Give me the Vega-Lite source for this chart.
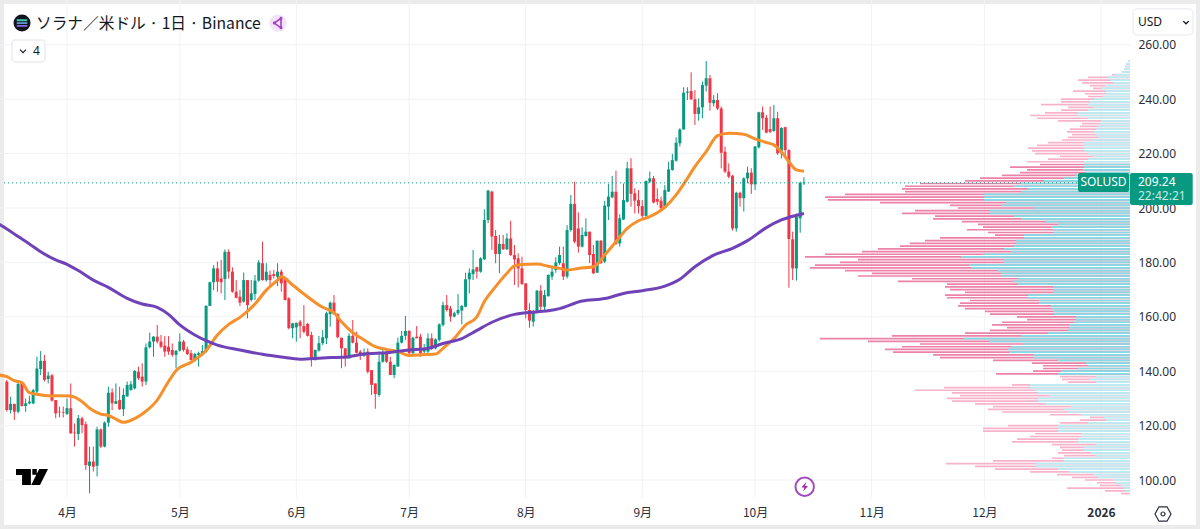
{
  "$schema": "https://vega.github.io/schema/vega-lite/v6.json",
  "width": 1200,
  "height": 529,
  "padding": 0,
  "autosize": {"type": "none"},
  "background": "#ffffff",
  "config": {
    "view": {"stroke": "#ebebeb", "strokeWidth": 8},
    "font": "Noto Sans"
  },
  "datasets": {
    "candles": [
      {"d":"2025-03-16","o":136.2,"h":136.8,"l":125.1,"c":125.7},
      {"d":"2025-03-17","o":125.7,"h":130.6,"l":124.5,"c":128},
      {"d":"2025-03-18","o":128,"h":128,"l":122.1,"c":125.1},
      {"d":"2025-03-19","o":125.1,"h":136.2,"l":124.5,"c":135.3},
      {"d":"2025-03-20","o":135.8,"h":136.2,"l":127,"c":127.2},
      {"d":"2025-03-21","o":127.2,"h":130,"l":125.1,"c":128.2},
      {"d":"2025-03-22","o":128.2,"h":131,"l":127.8,"c":128.8},
      {"d":"2025-03-23","o":128.1,"h":133.5,"l":127.9,"c":133},
      {"d":"2025-03-24","o":132.5,"h":145.4,"l":131.9,"c":141},
      {"d":"2025-03-25","o":140.8,"h":147.4,"l":138.6,"c":143.8},
      {"d":"2025-03-26","o":143.8,"h":146,"l":136.2,"c":136.8},
      {"d":"2025-03-27","o":137.1,"h":139.8,"l":135.5,"c":138.4},
      {"d":"2025-03-28","o":138.5,"h":139,"l":128.8,"c":129.2},
      {"d":"2025-03-29","o":129.4,"h":129.4,"l":122.7,"c":124.5},
      {"d":"2025-03-30","o":125.1,"h":127,"l":123,"c":124.9},
      {"d":"2025-03-31","o":124.9,"h":127,"l":123,"c":124.7},
      {"d":"2025-04-01","o":124.3,"h":130,"l":123.9,"c":126.4},
      {"d":"2025-04-02","o":126.4,"h":135.5,"l":116.9,"c":117.2},
      {"d":"2025-04-03","o":117.4,"h":120.8,"l":112.3,"c":117.2},
      {"d":"2025-04-04","o":116.9,"h":123.9,"l":114.7,"c":122.7},
      {"d":"2025-04-05","o":122.7,"h":123.3,"l":117.2,"c":120.2},
      {"d":"2025-04-06","o":120.5,"h":121.5,"l":103.7,"c":105.5},
      {"d":"2025-04-07","o":105.2,"h":112.3,"l":95.1,"c":106.8},
      {"d":"2025-04-08","o":106.8,"h":112.3,"l":103.1,"c":104.9},
      {"d":"2025-04-09","o":105.2,"h":119.6,"l":101.3,"c":118.6},
      {"d":"2025-04-10","o":118.6,"h":119,"l":111.7,"c":112.3},
      {"d":"2025-04-11","o":112.3,"h":121.5,"l":112,"c":121.1},
      {"d":"2025-04-12","o":121.1,"h":134.3,"l":119.6,"c":132.1},
      {"d":"2025-04-13","o":132.2,"h":133.7,"l":125.7,"c":128.2},
      {"d":"2025-04-14","o":128,"h":135.5,"l":128,"c":129},
      {"d":"2025-04-15","o":129.4,"h":134.3,"l":125.7,"c":126},
      {"d":"2025-04-16","o":126,"h":133.7,"l":123.5,"c":131.3},
      {"d":"2025-04-17","o":130.7,"h":136.2,"l":130.7,"c":134.9},
      {"d":"2025-04-18","o":133.1,"h":136.4,"l":132.8,"c":135.2},
      {"d":"2025-04-19","o":133.7,"h":140.4,"l":133.3,"c":140.1},
      {"d":"2025-04-20","o":139.8,"h":141.7,"l":136.8,"c":137.4},
      {"d":"2025-04-21","o":138,"h":142.9,"l":134.3,"c":136.2},
      {"d":"2025-04-22","o":136.2,"h":150.2,"l":134.9,"c":148.8},
      {"d":"2025-04-23","o":148.8,"h":154.2,"l":148.4,"c":150.9},
      {"d":"2025-04-24","o":150.9,"h":152.9,"l":145.3,"c":152.7},
      {"d":"2025-04-25","o":152.7,"h":157,"l":150.2,"c":150.9},
      {"d":"2025-04-26","o":150.9,"h":153.3,"l":148.4,"c":149},
      {"d":"2025-04-27","o":149.4,"h":152.9,"l":145.3,"c":147.2},
      {"d":"2025-04-28","o":149,"h":152.9,"l":146,"c":147.2},
      {"d":"2025-04-29","o":147.8,"h":150.2,"l":145.3,"c":146},
      {"d":"2025-04-30","o":146,"h":147.6,"l":141.1,"c":147.6},
      {"d":"2025-05-01","o":147.6,"h":153.9,"l":147.2,"c":150.9},
      {"d":"2025-05-02","o":150.9,"h":151.5,"l":147.2,"c":147.8},
      {"d":"2025-05-03","o":148,"h":149,"l":146,"c":146.3},
      {"d":"2025-05-04","o":146.6,"h":147.8,"l":143.9,"c":144.1},
      {"d":"2025-05-05","o":144.1,"h":146.8,"l":143.5,"c":146.3},
      {"d":"2025-05-06","o":146,"h":147.2,"l":141.7,"c":146.6},
      {"d":"2025-05-07","o":146.3,"h":149.6,"l":146,"c":147.4},
      {"d":"2025-05-08","o":147.2,"h":164.3,"l":146.8,"c":164},
      {"d":"2025-05-09","o":164,"h":172.9,"l":164,"c":172.7},
      {"d":"2025-05-10","o":172.7,"h":179,"l":169.8,"c":177.8},
      {"d":"2025-05-11","o":177.8,"h":180.3,"l":169.2,"c":172.9},
      {"d":"2025-05-12","o":174.1,"h":180.9,"l":168.6,"c":172.7},
      {"d":"2025-05-13","o":173.9,"h":184.8,"l":166.2,"c":183.9},
      {"d":"2025-05-14","o":183.9,"h":184.8,"l":174.1,"c":176.6},
      {"d":"2025-05-15","o":176.6,"h":178.2,"l":168.9,"c":169.2},
      {"d":"2025-05-16","o":169.2,"h":173.5,"l":166.8,"c":167},
      {"d":"2025-05-17","o":167.4,"h":169.9,"l":164,"c":165.2},
      {"d":"2025-05-18","o":165.6,"h":176.3,"l":165.2,"c":173.5},
      {"d":"2025-05-19","o":173.5,"h":173.5,"l":159.4,"c":164.3},
      {"d":"2025-05-20","o":166.2,"h":173.5,"l":165.6,"c":168.6},
      {"d":"2025-05-21","o":168.4,"h":175.4,"l":166.2,"c":173.3},
      {"d":"2025-05-22","o":173.3,"h":180.9,"l":172.9,"c":180},
      {"d":"2025-05-23","o":179.7,"h":187.6,"l":173.3,"c":173.5},
      {"d":"2025-05-24","o":173.5,"h":179.7,"l":172.9,"c":176.6},
      {"d":"2025-05-25","o":175.4,"h":177,"l":171.3,"c":173.5},
      {"d":"2025-05-26","o":175.7,"h":177.2,"l":174.1,"c":175},
      {"d":"2025-05-27","o":174.7,"h":179.7,"l":171.3,"c":176.6},
      {"d":"2025-05-28","o":176.6,"h":177.4,"l":169.2,"c":172.3},
      {"d":"2025-05-29","o":174.1,"h":174.7,"l":166,"c":166.2},
      {"d":"2025-05-30","o":166.8,"h":167.2,"l":155.4,"c":155.8},
      {"d":"2025-05-31","o":155.8,"h":157.8,"l":152.1,"c":157.6},
      {"d":"2025-06-01","o":156.1,"h":157.8,"l":150.9,"c":157.8},
      {"d":"2025-06-02","o":158.2,"h":158.8,"l":152.1,"c":156.6},
      {"d":"2025-06-03","o":156.6,"h":164.3,"l":153.9,"c":154.5},
      {"d":"2025-06-04","o":157.4,"h":157.8,"l":152.7,"c":153},
      {"d":"2025-06-05","o":153.3,"h":154.5,"l":141.7,"c":144.1},
      {"d":"2025-06-06","o":144.1,"h":148,"l":143.9,"c":147.8},
      {"d":"2025-06-07","o":147.6,"h":153,"l":147.2,"c":150.3},
      {"d":"2025-06-08","o":150.3,"h":155.1,"l":149.6,"c":152.5},
      {"d":"2025-06-09","o":152.1,"h":161.9,"l":150,"c":161.3},
      {"d":"2025-06-10","o":161,"h":165.6,"l":156.4,"c":165.2},
      {"d":"2025-06-11","o":165.2,"h":168,"l":160.7,"c":161},
      {"d":"2025-06-12","o":161,"h":161.3,"l":152.1,"c":152.5},
      {"d":"2025-06-13","o":152.3,"h":152.3,"l":141.1,"c":148.4},
      {"d":"2025-06-14","o":148.4,"h":148.4,"l":141.7,"c":144.7},
      {"d":"2025-06-15","o":144.7,"h":153.9,"l":144.7,"c":153},
      {"d":"2025-06-16","o":153,"h":158.8,"l":150.2,"c":150.5},
      {"d":"2025-06-17","o":150.5,"h":154.5,"l":146.6,"c":146.8},
      {"d":"2025-06-18","o":147.2,"h":147.8,"l":144.1,"c":145.6},
      {"d":"2025-06-19","o":145.6,"h":148.4,"l":145.3,"c":146.8},
      {"d":"2025-06-20","o":147.2,"h":148.4,"l":139.2,"c":139.8},
      {"d":"2025-06-21","o":140.4,"h":140.4,"l":131.3,"c":135},
      {"d":"2025-06-22","o":135.5,"h":135.5,"l":126.2,"c":131.6},
      {"d":"2025-06-23","o":131.3,"h":147.2,"l":130.6,"c":143.5},
      {"d":"2025-06-24","o":143.5,"h":147.8,"l":143.1,"c":146.8},
      {"d":"2025-06-25","o":146.8,"h":147.8,"l":143.1,"c":143.5},
      {"d":"2025-06-26","o":143.5,"h":145.3,"l":138.6,"c":138.6},
      {"d":"2025-06-27","o":138.6,"h":142.5,"l":137.4,"c":142.3},
      {"d":"2025-06-28","o":141.7,"h":152.3,"l":141.7,"c":150.5},
      {"d":"2025-06-29","o":150.5,"h":154.8,"l":150.2,"c":153},
      {"d":"2025-06-30","o":153,"h":160.3,"l":151.5,"c":154.8},
      {"d":"2025-07-01","o":154.8,"h":155.1,"l":145.3,"c":146.6},
      {"d":"2025-07-02","o":146.6,"h":152.7,"l":146.3,"c":152.3},
      {"d":"2025-07-03","o":152.7,"h":156.6,"l":152.1,"c":152.1},
      {"d":"2025-07-04","o":152.7,"h":153.7,"l":145.3,"c":146.6},
      {"d":"2025-07-05","o":147.2,"h":150,"l":146.3,"c":148.4},
      {"d":"2025-07-06","o":147.2,"h":153.9,"l":146.6,"c":152.1},
      {"d":"2025-07-07","o":152.1,"h":153.9,"l":147.8,"c":148.4},
      {"d":"2025-07-08","o":148.4,"h":152.1,"l":148,"c":151.7},
      {"d":"2025-07-09","o":151.5,"h":157.6,"l":150.9,"c":157.2},
      {"d":"2025-07-10","o":157,"h":165.6,"l":156.4,"c":164.3},
      {"d":"2025-07-11","o":164.3,"h":168,"l":161.9,"c":162.5},
      {"d":"2025-07-12","o":163.1,"h":164,"l":158.2,"c":160.1},
      {"d":"2025-07-13","o":160.1,"h":161.9,"l":159.8,"c":161.3},
      {"d":"2025-07-14","o":161.3,"h":168.4,"l":160.7,"c":162.5},
      {"d":"2025-07-15","o":162.3,"h":164.3,"l":157.2,"c":164},
      {"d":"2025-07-16","o":163.7,"h":176.2,"l":163.5,"c":173.8},
      {"d":"2025-07-17","o":173.8,"h":177.8,"l":168.6,"c":176.2},
      {"d":"2025-07-18","o":175.7,"h":184.6,"l":173.5,"c":177.4},
      {"d":"2025-07-19","o":178.2,"h":178.4,"l":174.1,"c":176.6},
      {"d":"2025-07-20","o":176.6,"h":181.9,"l":176.2,"c":181.5},
      {"d":"2025-07-21","o":181.1,"h":199.5,"l":180.9,"c":195.6},
      {"d":"2025-07-22","o":195.6,"h":206.6,"l":194.4,"c":206.4},
      {"d":"2025-07-23","o":206,"h":206.4,"l":184.6,"c":189.5},
      {"d":"2025-07-24","o":189.7,"h":191.9,"l":179.7,"c":183.1},
      {"d":"2025-07-25","o":183.1,"h":190.1,"l":176,"c":186.8},
      {"d":"2025-07-26","o":186.8,"h":190.1,"l":184.6,"c":184.8},
      {"d":"2025-07-27","o":184.8,"h":190.7,"l":184.6,"c":188.8},
      {"d":"2025-07-28","o":188.8,"h":195.3,"l":182.3,"c":182.7},
      {"d":"2025-07-29","o":182.7,"h":186.4,"l":171.7,"c":181.1},
      {"d":"2025-07-30","o":181.5,"h":183.3,"l":170.8,"c":177.8},
      {"d":"2025-07-31","o":177.8,"h":182.1,"l":171.7,"c":172.1},
      {"d":"2025-08-01","o":172.3,"h":172.3,"l":159.4,"c":162.5},
      {"d":"2025-08-02","o":162.5,"h":165,"l":156,"c":158.6},
      {"d":"2025-08-03","o":158.2,"h":162.5,"l":156.4,"c":161.9},
      {"d":"2025-08-04","o":161.9,"h":169.9,"l":161.3,"c":169.6},
      {"d":"2025-08-05","o":169.6,"h":171.7,"l":161.9,"c":163.7},
      {"d":"2025-08-06","o":163.7,"h":169.9,"l":161.9,"c":168},
      {"d":"2025-08-07","o":167.6,"h":175.6,"l":167.4,"c":175.4},
      {"d":"2025-08-08","o":174.8,"h":178,"l":173.6,"c":176.6},
      {"d":"2025-08-09","o":177.2,"h":181.9,"l":176.2,"c":180},
      {"d":"2025-08-10","o":179.7,"h":185.8,"l":179.1,"c":182.7},
      {"d":"2025-08-11","o":179.7,"h":185.8,"l":173.5,"c":174.8},
      {"d":"2025-08-12","o":174.8,"h":193.7,"l":174.1,"c":191.9},
      {"d":"2025-08-13","o":191.9,"h":204.8,"l":191.3,"c":201.5},
      {"d":"2025-08-14","o":201.5,"h":209.7,"l":187,"c":187.6},
      {"d":"2025-08-15","o":192.5,"h":198.4,"l":183.6,"c":185.8},
      {"d":"2025-08-16","o":185.8,"h":192.9,"l":185.5,"c":190.1},
      {"d":"2025-08-17","o":189.7,"h":196.2,"l":189.5,"c":191.3},
      {"d":"2025-08-18","o":191.3,"h":191.3,"l":179.7,"c":182.7},
      {"d":"2025-08-19","o":183.1,"h":186.4,"l":175.7,"c":176},
      {"d":"2025-08-20","o":176.2,"h":188,"l":176.2,"c":188},
      {"d":"2025-08-21","o":188,"h":188.2,"l":179.5,"c":179.7},
      {"d":"2025-08-22","o":180.3,"h":202.6,"l":179.7,"c":200.9},
      {"d":"2025-08-23","o":200.5,"h":208.8,"l":195.6,"c":204.2},
      {"d":"2025-08-24","o":203.9,"h":211.8,"l":203.6,"c":206},
      {"d":"2025-08-25","o":206,"h":213.7,"l":186.4,"c":186.8},
      {"d":"2025-08-26","o":187,"h":197.7,"l":185.8,"c":196.2},
      {"d":"2025-08-27","o":195.8,"h":209,"l":195.6,"c":202.9},
      {"d":"2025-08-28","o":202.3,"h":217,"l":202,"c":214.6},
      {"d":"2025-08-29","o":214.6,"h":218.3,"l":200.5,"c":205.2},
      {"d":"2025-08-30","o":205.4,"h":207.2,"l":198,"c":202.7},
      {"d":"2025-08-31","o":202.9,"h":206.6,"l":198,"c":200.7},
      {"d":"2025-09-01","o":200.7,"h":202.9,"l":195.6,"c":197.1},
      {"d":"2025-09-02","o":197.1,"h":210.1,"l":196.8,"c":209.9},
      {"d":"2025-09-03","o":209.7,"h":213.4,"l":209.1,"c":210.9},
      {"d":"2025-09-04","o":210.9,"h":211.8,"l":201.7,"c":202},
      {"d":"2025-09-05","o":203.3,"h":207.2,"l":201.1,"c":202.3},
      {"d":"2025-09-06","o":202.7,"h":204.2,"l":199.5,"c":199.9},
      {"d":"2025-09-07","o":200.1,"h":208.5,"l":199.9,"c":206.6},
      {"d":"2025-09-08","o":206,"h":217,"l":206,"c":214.2},
      {"d":"2025-09-09","o":214,"h":219.9,"l":213.7,"c":217.6},
      {"d":"2025-09-10","o":217.4,"h":226,"l":217,"c":224},
      {"d":"2025-09-11","o":223.8,"h":229.3,"l":222.6,"c":228.9},
      {"d":"2025-09-12","o":228.9,"h":244.4,"l":228.7,"c":242.4},
      {"d":"2025-09-13","o":242.4,"h":244.4,"l":239.7,"c":242.8},
      {"d":"2025-09-14","o":243,"h":249.9,"l":239.7,"c":240},
      {"d":"2025-09-15","o":240,"h":243.4,"l":230.5,"c":234.6},
      {"d":"2025-09-16","o":234.6,"h":240.3,"l":232.1,"c":237},
      {"d":"2025-09-17","o":237,"h":246.5,"l":233,"c":245.2},
      {"d":"2025-09-18","o":245,"h":254,"l":242.8,"c":247.7},
      {"d":"2025-09-19","o":247.7,"h":248.9,"l":235.8,"c":238.7},
      {"d":"2025-09-20","o":238.5,"h":241.5,"l":237.3,"c":239.7},
      {"d":"2025-09-21","o":239.7,"h":242.2,"l":236,"c":236.6},
      {"d":"2025-09-22","o":236.6,"h":237.3,"l":214.6,"c":220.3},
      {"d":"2025-09-23","o":220.7,"h":222.6,"l":212.8,"c":213.4},
      {"d":"2025-09-24","o":213.4,"h":216.4,"l":210.9,"c":211.5},
      {"d":"2025-09-25","o":211.9,"h":212.1,"l":191.7,"c":192.5},
      {"d":"2025-09-26","o":192.5,"h":206,"l":191.3,"c":205.6},
      {"d":"2025-09-27","o":205.6,"h":206,"l":200.5,"c":203.6},
      {"d":"2025-09-28","o":203.6,"h":211.3,"l":198.7,"c":210.9},
      {"d":"2025-09-29","o":210.9,"h":215.2,"l":209.1,"c":213},
      {"d":"2025-09-30","o":213,"h":214.6,"l":205.2,"c":208.7},
      {"d":"2025-10-01","o":208.7,"h":222.8,"l":206.6,"c":222.6},
      {"d":"2025-10-02","o":222.3,"h":235.4,"l":221.9,"c":235.2},
      {"d":"2025-10-03","o":235.2,"h":237.3,"l":228.7,"c":233},
      {"d":"2025-10-04","o":233.2,"h":234.2,"l":227.5,"c":227.7},
      {"d":"2025-10-05","o":229,"h":237.3,"l":227.5,"c":228},
      {"d":"2025-10-06","o":228.3,"h":237.9,"l":228,"c":233},
      {"d":"2025-10-07","o":233,"h":235.4,"l":219.5,"c":220.1},
      {"d":"2025-10-08","o":220.1,"h":229.7,"l":218.2,"c":229.4},
      {"d":"2025-10-09","o":229.7,"h":229.9,"l":218.9,"c":221.3},
      {"d":"2025-10-10","o":221.3,"h":221.6,"l":170.7,"c":188.6},
      {"d":"2025-10-11","o":188.5,"h":191.3,"l":173.5,"c":177.8},
      {"d":"2025-10-12","o":177.8,"h":198,"l":173.3,"c":196.8},
      {"d":"2025-10-13","o":196.2,"h":209.7,"l":190.9,"c":209.3},
      {"d":"2025-10-14","o":209.1,"h":211.3,"l":208.5,"c":209.4}
    ],
    "ma_fast": [
      {"d":"2025-03-14","p":138.6},{"d":"2025-03-16","p":138},{"d":"2025-03-18","p":136.5},{"d":"2025-03-20","p":135.8},{"d":"2025-03-22","p":132.1},{"d":"2025-03-24","p":131.5},{"d":"2025-03-28","p":130.9},{"d":"2025-03-30","p":131},{"d":"2025-04-02","p":130.9},{"d":"2025-04-05","p":128.8},{"d":"2025-04-07","p":126.4},{"d":"2025-04-10","p":124.2},{"d":"2025-04-12","p":123.7},{"d":"2025-04-14","p":122.4},{"d":"2025-04-16","p":121.2},{"d":"2025-04-19","p":122.6},{"d":"2025-04-21","p":124.3},{"d":"2025-04-25","p":129.4},{"d":"2025-04-28","p":136.2},{"d":"2025-04-30","p":140.2},{"d":"2025-05-04","p":143.3},{"d":"2025-05-08","p":147.6},{"d":"2025-05-11","p":153.3},{"d":"2025-05-14","p":157.2},{"d":"2025-05-17","p":159.8},{"d":"2025-05-21","p":164.7},{"d":"2025-05-24","p":169.8},{"d":"2025-05-27","p":173.5},{"d":"2025-05-28","p":174.8},{"d":"2025-05-31","p":171.7},{"d":"2025-06-03","p":168.4},{"d":"2025-06-06","p":165.3},{"d":"2025-06-08","p":163.5},{"d":"2025-06-11","p":161.5},{"d":"2025-06-13","p":158.2},{"d":"2025-06-16","p":154.2},{"d":"2025-06-19","p":151.5},{"d":"2025-06-22","p":149},{"d":"2025-06-25","p":148},{"d":"2025-06-28","p":147.2},{"d":"2025-07-01","p":145.8},{"d":"2025-07-05","p":146.1},{"d":"2025-07-08","p":146.3},{"d":"2025-07-10","p":148.4},{"d":"2025-07-13","p":152.1},{"d":"2025-07-16","p":157},{"d":"2025-07-19","p":160},{"d":"2025-07-21","p":165.6},{"d":"2025-07-24","p":171.1},{"d":"2025-07-27","p":176},{"d":"2025-07-29","p":178.7},{"d":"2025-07-31","p":179.2},{"d":"2025-08-04","p":179.4},{"d":"2025-08-07","p":178.6},{"d":"2025-08-10","p":177.8},{"d":"2025-08-12","p":177.2},{"d":"2025-08-15","p":177.8},{"d":"2025-08-19","p":178.4},{"d":"2025-08-22","p":182.7},{"d":"2025-08-25","p":187.6},{"d":"2025-08-28","p":192.5},{"d":"2025-08-31","p":195.3},{"d":"2025-09-03","p":196.8},{"d":"2025-09-07","p":200.2},{"d":"2025-09-10","p":204.8},{"d":"2025-09-13","p":210.9},{"d":"2025-09-15","p":215.2},{"d":"2025-09-18","p":220.7},{"d":"2025-09-21","p":226.6},{"d":"2025-09-24","p":227.5},{"d":"2025-09-28","p":227.1},{"d":"2025-10-01","p":225.4},{"d":"2025-10-04","p":224.1},{"d":"2025-10-06","p":223.2},{"d":"2025-10-08","p":220.7},{"d":"2025-10-10","p":217},{"d":"2025-10-12","p":214},{"d":"2025-10-14","p":213.5}
    ],
    "ma_slow": [
      {"d":"2025-03-14","p":194},{"d":"2025-03-16","p":192.3},{"d":"2025-03-19","p":189.5},{"d":"2025-03-22","p":186.8},{"d":"2025-03-25","p":183.9},{"d":"2025-03-29","p":180.9},{"d":"2025-04-01","p":179.3},{"d":"2025-04-04","p":177},{"d":"2025-04-08","p":173.5},{"d":"2025-04-12","p":170.8},{"d":"2025-04-17","p":166.8},{"d":"2025-04-21","p":164.7},{"d":"2025-04-25","p":163.5},{"d":"2025-04-28","p":160.9},{"d":"2025-05-01","p":157},{"d":"2025-05-05","p":153.3},{"d":"2025-05-08","p":151.2},{"d":"2025-05-11","p":149.6},{"d":"2025-05-17","p":147.8},{"d":"2025-05-23","p":146.2},{"d":"2025-05-28","p":145.2},{"d":"2025-06-02","p":144.4},{"d":"2025-06-08","p":144.9},{"d":"2025-06-14","p":145.2},{"d":"2025-06-19","p":146.3},{"d":"2025-06-25","p":146.8},{"d":"2025-07-01","p":147.8},{"d":"2025-07-06","p":148.4},{"d":"2025-07-10","p":150.2},{"d":"2025-07-15","p":152},{"d":"2025-07-19","p":155},{"d":"2025-07-23","p":158},{"d":"2025-07-29","p":160.9},{"d":"2025-08-01","p":161.5},{"d":"2025-08-07","p":162.2},{"d":"2025-08-10","p":163},{"d":"2025-08-16","p":165.8},{"d":"2025-08-22","p":166.7},{"d":"2025-08-27","p":168.6},{"d":"2025-09-01","p":169.6},{"d":"2025-09-07","p":171.3},{"d":"2025-09-11","p":173.8},{"d":"2025-09-15","p":178.4},{"d":"2025-09-20","p":182.7},{"d":"2025-09-25","p":185.2},{"d":"2025-09-29","p":188},{"d":"2025-10-04","p":192.8},{"d":"2025-10-08","p":195.6},{"d":"2025-10-14","p":198}
    ],
    "profile": [
      {"p":254,"total":2,"up":2},{"p":253,"total":4,"up":4},{"p":252,"total":5,"up":5},{"p":251,"total":6,"up":6},{"p":250,"total":8,"up":8},{"p":249,"total":18,"up":16},{"p":248,"total":42,"up":22},{"p":247,"total":52,"up":20},{"p":246,"total":48,"up":16},{"p":245,"total":40,"up":25},{"p":244,"total":37,"up":29},{"p":243,"total":57,"up":24},{"p":242,"total":45,"up":24},{"p":241,"total":42,"up":27},{"p":240,"total":69,"up":36},{"p":239,"total":69,"up":40},{"p":238,"total":89,"up":42},{"p":237,"total":62,"up":36},{"p":236,"total":69,"up":42},{"p":235,"total":85,"up":52},{"p":234,"total":100,"up":52},{"p":233,"total":93,"up":42},{"p":232,"total":72,"up":29},{"p":231,"total":48,"up":30},{"p":230,"total":50,"up":32},{"p":229,"total":60,"up":34},{"p":228,"total":63,"up":36},{"p":227,"total":58,"up":34},{"p":226,"total":62,"up":32},{"p":225,"total":68,"up":39},{"p":224,"total":82,"up":46},{"p":223,"total":93,"up":46},{"p":222,"total":102,"up":46},{"p":221,"total":98,"up":46},{"p":220,"total":95,"up":42},{"p":219,"total":70,"up":37},{"p":218,"total":82,"up":42},{"p":217,"total":103,"up":46},{"p":216,"total":90,"up":46},{"p":215,"total":120,"up":46},{"p":214,"total":103,"up":47},{"p":213,"total":110,"up":44},{"p":212,"total":128,"up":55},{"p":211,"total":150,"up":66},{"p":210,"total":165,"up":86},{"p":209,"total":210,"up":109},{"p":208,"total":225,"up":116},{"p":207,"total":228,"up":102},{"p":206,"total":225,"up":109},{"p":205,"total":285,"up":146},{"p":204,"total":305,"up":146},{"p":203,"total":302,"up":146},{"p":202,"total":250,"up":124},{"p":201,"total":180,"up":129},{"p":200,"total":172,"up":96},{"p":199,"total":215,"up":140},{"p":198,"total":228,"up":140},{"p":197,"total":195,"up":116},{"p":196,"total":197,"up":109},{"p":195,"total":168,"up":84},{"p":194,"total":152,"up":72},{"p":193,"total":147,"up":79},{"p":192,"total":163,"up":77},{"p":191,"total":142,"up":76},{"p":190,"total":135,"up":106},{"p":189,"total":190,"up":106},{"p":188,"total":205,"up":114},{"p":187,"total":220,"up":114},{"p":186,"total":230,"up":116},{"p":185,"total":252,"up":126},{"p":184,"total":268,"up":119},{"p":183,"total":305,"up":147},{"p":182,"total":325,"up":169},{"p":181,"total":272,"up":126},{"p":180,"total":290,"up":126},{"p":179,"total":315,"up":161},{"p":178,"total":320,"up":159},{"p":177,"total":285,"up":132},{"p":176,"total":258,"up":129},{"p":175,"total":272,"up":129},{"p":174,"total":218,"up":112},{"p":173,"total":232,"up":117},{"p":172,"total":183,"up":112},{"p":171,"total":185,"up":77},{"p":170,"total":180,"up":77},{"p":169,"total":165,"up":77},{"p":168,"total":185,"up":102},{"p":167,"total":183,"up":102},{"p":166,"total":160,"up":91},{"p":165,"total":170,"up":91},{"p":164,"total":172,"up":79},{"p":163,"total":165,"up":79},{"p":162,"total":145,"up":77},{"p":161,"total":140,"up":76},{"p":160,"total":113,"up":54},{"p":159,"total":103,"up":54},{"p":158,"total":128,"up":56},{"p":157,"total":138,"up":61},{"p":156,"total":123,"up":61},{"p":155,"total":140,"up":62},{"p":154,"total":165,"up":82},{"p":153,"total":238,"up":109},{"p":152,"total":310,"up":166},{"p":151,"total":262,"up":141},{"p":150,"total":210,"up":107},{"p":149,"total":228,"up":119},{"p":148,"total":245,"up":122},{"p":147,"total":237,"up":121},{"p":146,"total":197,"up":97},{"p":145,"total":190,"up":97},{"p":144,"total":137,"up":73},{"p":143,"total":98,"up":44},{"p":142,"total":87,"up":42},{"p":141,"total":87,"up":52},{"p":140,"total":97,"up":69},{"p":139,"total":134,"up":72},{"p":138,"total":70,"up":34},{"p":137,"total":68,"up":41},{"p":136,"total":62,"up":34},{"p":135,"total":118,"up":100},{"p":134,"total":186,"up":100},{"p":133,"total":215,"up":95},{"p":132,"total":178,"up":92},{"p":131,"total":170,"up":81},{"p":130,"total":183,"up":92},{"p":129,"total":178,"up":92},{"p":128,"total":155,"up":84},{"p":127,"total":137,"up":59},{"p":126,"total":142,"up":66},{"p":125,"total":128,"up":62},{"p":124,"total":80,"up":49},{"p":123,"total":40,"up":26},{"p":122,"total":50,"up":24},{"p":121,"total":70,"up":42},{"p":120,"total":122,"up":72},{"p":119,"total":147,"up":72},{"p":118,"total":147,"up":72},{"p":117,"total":95,"up":49},{"p":116,"total":100,"up":49},{"p":115,"total":113,"up":52},{"p":114,"total":118,"up":52},{"p":113,"total":78,"up":34},{"p":112,"total":70,"up":46},{"p":111,"total":68,"up":46},{"p":110,"total":72,"up":39},{"p":109,"total":66,"up":34},{"p":108,"total":78,"up":66},{"p":107,"total":137,"up":66},{"p":106,"total":184,"up":94},{"p":105,"total":155,"up":94},{"p":104,"total":135,"up":72},{"p":103,"total":100,"up":61},{"p":102,"total":73,"up":36},{"p":101,"total":58,"up":32},{"p":100,"total":45,"up":17},{"p":99,"total":33,"up":14},{"p":98,"total":30,"up":9},{"p":97,"total":63,"up":6},{"p":96,"total":25,"up":4},{"p":95,"total":9,"up":1}
    ],
    "grid_y": [{"p":100},{"p":120},{"p":140},{"p":160},{"p":180},{"p":200},{"p":220},{"p":240},{"p":260}],
    "grid_x": [{"d":"2025-04-01"},{"d":"2025-05-01"},{"d":"2025-06-01"},{"d":"2025-07-01"},{"d":"2025-08-01"},{"d":"2025-09-01"},{"d":"2025-10-01"},{"d":"2025-11-01"},{"d":"2025-12-01"},{"d":"2026-01-01"}]
  },
  "resolve": {"scale": {"x": "independent"}, "axis": {"x": "independent"}},
  "layer": [
    {
      "layer": [
        {
          "data": {"name": "grid_x"},
          "mark": {"type": "rule", "color": "#f1f2f5", "strokeWidth": 1},
          "encoding": {
            "x": {
              "field": "d", "type": "temporal",
              "scale": {"type": "utc", "padding": 0, "domain": [{"year":2025,"month":3,"date":14,"hours":4,"minutes":20,"utc":true},{"year":2026,"month":1,"date":27,"hours":8,"utc":true}]},
              "axis": {
                "orient": "bottom", "offset": -31, "title": null, "grid": false, "domain": false, "ticks": false,
                "values": [
                  {"year":2025,"month":4,"date":1,"utc":true},{"year":2025,"month":5,"date":1,"utc":true},{"year":2025,"month":6,"date":1,"utc":true},
                  {"year":2025,"month":7,"date":1,"utc":true},{"year":2025,"month":8,"date":1,"utc":true},{"year":2025,"month":9,"date":1,"utc":true},
                  {"year":2025,"month":10,"date":1,"utc":true},{"year":2025,"month":11,"date":1,"utc":true},{"year":2025,"month":12,"date":1,"utc":true},{"year":2026,"month":1,"date":1,"utc":true}
                ],
                "labelExpr": "utcmonth(datum.value) === 0 ? '2026' : (utcmonth(datum.value) + 1) + '月'",
                "labelFont": "Noto Sans CJK JP", "labelFontSize": 12, "labelColor": "#2a2e39", "labelPadding": 9,
                "labelFontWeight": {"condition": {"test": "utcmonth(datum.value) === 0", "value": "bold"}, "value": "normal"}
              }
            },
            "y": {"datum": 276.47, "type": "quantitative", "scale": {"domain": [81.99, 276.47]},
              "axis": {
                "orient": "right", "offset": -70, "title": null, "grid": false, "domain": false, "ticks": false,
                "values": [100,120,140,160,180,200,220,240,260], "format": ".2f",
                "labelFontSize": 12, "labelColor": "#2a2e39", "labelPadding": 8, "labelFlush": false
              }
            },
            "y2": {"datum": 93.4}
          }
        },
        {
          "data": {"name": "grid_y"},
          "mark": {"type": "rule", "color": "#f1f2f5", "strokeWidth": 1},
          "encoding": {
            "x": {"datum": {"year":2025,"month":3,"date":14,"utc":true}, "type": "temporal", "scale": {"type": "utc", "padding": 0, "domain": [{"year":2025,"month":3,"date":14,"hours":4,"minutes":20,"utc":true},{"year":2026,"month":1,"date":27,"hours":8,"utc":true}]}},
            "x2": {"datum": {"year":2026,"month":1,"date":9,"utc":true}},
            "y": {"field": "p", "type": "quantitative", "scale": {"domain": [81.99, 276.47]}}
          }
        },
        {
          "data": {"name": "candles"},
          "mark": {"type": "rule", "strokeWidth": 1},
          "encoding": {
            "x": {"field": "d", "type": "temporal", "scale": {"type": "utc", "padding": 0, "domain": [{"year":2025,"month":3,"date":14,"hours":4,"minutes":20,"utc":true},{"year":2026,"month":1,"date":27,"hours":8,"utc":true}]}},
            "y": {"field": "l", "type": "quantitative", "scale": {"domain": [81.99, 276.47]}},
            "y2": {"field": "h"},
            "color": {"condition": {"test": "datum.c >= datum.o", "value": "#089981"}, "value": "#f23645"}
          }
        },
        {
          "data": {"name": "candles"},
          "mark": {"type": "bar", "size": 3},
          "encoding": {
            "x": {"field": "d", "type": "temporal", "scale": {"type": "utc", "padding": 0, "domain": [{"year":2025,"month":3,"date":14,"hours":4,"minutes":20,"utc":true},{"year":2026,"month":1,"date":27,"hours":8,"utc":true}]}},
            "y": {"field": "o", "type": "quantitative", "scale": {"domain": [81.99, 276.47]}},
            "y2": {"field": "c"},
            "color": {"condition": {"test": "datum.c >= datum.o", "value": "#089981"}, "value": "#f23645"}
          }
        },
        {
          "data": {"name": "ma_fast"},
          "mark": {"type": "line", "color": "#f5902c", "strokeWidth": 3, "interpolate": "monotone", "clip": true},
          "encoding": {
            "x": {"field": "d", "type": "temporal", "scale": {"type": "utc", "padding": 0, "domain": [{"year":2025,"month":3,"date":14,"hours":4,"minutes":20,"utc":true},{"year":2026,"month":1,"date":27,"hours":8,"utc":true}]}},
            "y": {"field": "p", "type": "quantitative", "scale": {"domain": [81.99, 276.47]}}
          }
        },
        {
          "data": {"name": "ma_slow"},
          "mark": {"type": "line", "color": "#6f42b8", "strokeWidth": 3, "interpolate": "monotone", "clip": true},
          "encoding": {
            "x": {"field": "d", "type": "temporal", "scale": {"type": "utc", "padding": 0, "domain": [{"year":2025,"month":3,"date":14,"hours":4,"minutes":20,"utc":true},{"year":2026,"month":1,"date":27,"hours":8,"utc":true}]}},
            "y": {"field": "p", "type": "quantitative", "scale": {"domain": [81.99, 276.47]}}
          }
        }
      ]
    },
    {
      "layer": [
        {
          "data": {"name": "profile"},
          "mark": {"type": "rule", "strokeWidth": 1.7},
          "encoding": {
            "x": {"field": "total", "type": "quantitative", "scale": {"domain": [1130, -70]}, "axis": null},
            "x2": {"datum": 0},
            "y": {"field": "p", "type": "quantitative", "scale": {"domain": [81.99, 276.47]}},
            "color": {"condition": {"test": "datum.p >= 139 && datum.p <= 216", "value": "#ec82a8"}, "value": "#f8b3cb"}
          }
        },
        {
          "data": {"name": "profile"},
          "mark": {"type": "rule", "strokeWidth": 1.7},
          "encoding": {
            "x": {"field": "up", "type": "quantitative", "scale": {"domain": [1130, -70]}, "axis": null},
            "x2": {"datum": 0},
            "y": {"field": "p", "type": "quantitative", "scale": {"domain": [81.99, 276.47]}},
            "color": {"condition": {"test": "datum.p >= 139 && datum.p <= 216", "value": "#82dbe5"}, "value": "#b8edf3"}
          }
        },
        {
          "data": {"values": [{"p": 209.24}]},
          "mark": {"type": "rule", "color": "#089981", "strokeWidth": 1, "strokeDash": [1, 3]},
          "encoding": {
            "x": {"datum": 1126, "type": "quantitative", "scale": {"domain": [1130, -70]}, "axis": null},
            "x2": {"datum": 0},
            "y": {"field": "p", "type": "quantitative", "scale": {"domain": [81.99, 276.47]}}
          }
        },
        {
          "data": {"values": [{"label": "SOLUSD"}]},
          "mark": {"type": "rect", "fill": "#089981", "cornerRadius": 2},
          "encoding": {
            "x": {"datum": 52, "type": "quantitative", "scale": {"domain": [1130, -70]}, "axis": null},
            "x2": {"datum": 1},
            "y": {"datum": 212.87, "type": "quantitative", "scale": {"domain": [81.99, 276.47]}},
            "y2": {"datum": 205.88}
          }
        },
        {
          "data": {"values": [{"label": "209.24"}]},
          "mark": {"type": "rect", "fill": "#089981", "cornerRadius": 2},
          "encoding": {
            "x": {"datum": 0, "type": "quantitative", "scale": {"domain": [1130, -70]}, "axis": null},
            "x2": {"datum": -62.7},
            "y": {"datum": 212.87, "type": "quantitative", "scale": {"domain": [81.99, 276.47]}},
            "y2": {"datum": 201.1}
          }
        },
        {
          "data": {"values": [{"label": "SOLUSD"}]},
          "mark": {"type": "text", "color": "#ffffff", "fontSize": 12, "align": "center", "baseline": "middle"},
          "encoding": {
            "x": {"datum": 26.5, "type": "quantitative", "scale": {"domain": [1130, -70]}, "axis": null},
            "y": {"datum": 209.4, "type": "quantitative", "scale": {"domain": [81.99, 276.47]}},
            "text": {"field": "label"}
          }
        },
        {
          "data": {"values": [{"label": "209.24"}]},
          "mark": {"type": "text", "color": "#ffffff", "fontSize": 12, "align": "left", "baseline": "middle"},
          "encoding": {
            "x": {"datum": -8, "type": "quantitative", "scale": {"domain": [1130, -70]}, "axis": null},
            "y": {"datum": 209.4, "type": "quantitative", "scale": {"domain": [81.99, 276.47]}},
            "text": {"field": "label"}
          }
        },
        {
          "data": {"values": [{"label": "22:42:21"}]},
          "mark": {"type": "text", "color": "#c8ebe3", "fontSize": 12, "align": "left", "baseline": "middle"},
          "encoding": {
            "x": {"datum": -8, "type": "quantitative", "scale": {"domain": [1130, -70]}, "axis": null},
            "y": {"datum": 204.3, "type": "quantitative", "scale": {"domain": [81.99, 276.47]}},
            "text": {"field": "label"}
          }
        },
        {
          "data": {"values": [{"label": "ソラナ／米ドル · 1日 · Binance"}]},
          "mark": {"type": "text", "color": "#131722", "fontSize": 15.7, "font": "Noto Sans CJK JP", "align": "left", "baseline": "middle"},
          "encoding": {
            "x": {"datum": 1094, "type": "quantitative", "scale": {"domain": [1130, -70]}, "axis": null},
            "y": {"datum": 267.7, "type": "quantitative", "scale": {"domain": [81.99, 276.47]}},
            "text": {"field": "label"}
          }
        },
        {
          "data": {"values": [{"icon": "solana"}]},
          "mark": {"type": "point", "shape": "circle", "filled": true, "fill": "#12151f", "size": 290, "opacity": 1},
          "encoding": {
            "x": {"datum": 1108, "type": "quantitative", "scale": {"domain": [1130, -70]}, "axis": null},
            "y": {"datum": 268, "type": "quantitative", "scale": {"domain": [81.99, 276.47]}}
          }
        },
        {
          "data": {"values": [{"icon": "solana stripes"}]},
          "mark": {"type": "point", "shape": "M-1,-0.7H1V-0.36H-1ZM-1,-0.17H1V0.17H-1ZM-1,0.36H1V0.7H-1Z", "filled": true, "size": 110, "opacity": 1,
            "fill": {"gradient": "linear", "x1": 0, "y1": 0, "x2": 0, "y2": 1, "stops": [{"offset": 0, "color": "#35d6b0"}, {"offset": 1, "color": "#8f5cf0"}]}},
          "encoding": {
            "x": {"datum": 1108, "type": "quantitative", "scale": {"domain": [1130, -70]}, "axis": null},
            "y": {"datum": 268, "type": "quantitative", "scale": {"domain": [81.99, 276.47]}}
          }
        },
        {
          "data": {"values": [{"icon": "share"}]},
          "mark": {"type": "point", "shape": "circle", "filled": true, "fill": "#f1e3f8", "size": 300, "opacity": 1},
          "encoding": {
            "x": {"datum": 852, "type": "quantitative", "scale": {"domain": [1130, -70]}, "axis": null},
            "y": {"datum": 268, "type": "quantitative", "scale": {"domain": [81.99, 276.47]}}
          }
        },
        {
          "data": {"values": [{"icon": "share glyph"}]},
          "mark": {"type": "point", "shape": "M0.6,-0.95L-0.75,0L0.6,0.95Z", "filled": false, "stroke": "#a53fc4", "strokeWidth": 1.6, "size": 100, "opacity": 1},
          "encoding": {
            "x": {"datum": 852, "type": "quantitative", "scale": {"domain": [1130, -70]}, "axis": null},
            "y": {"datum": 268, "type": "quantitative", "scale": {"domain": [81.99, 276.47]}}
          }
        },
        {
          "data": {"values": [{"icon": "share nodes"}]},
          "mark": {"type": "point", "shape": "M0.3,-0.95a0.3,0.3 0 1,0 0.6,0a0.3,0.3 0 1,0 -0.6,0ZM-1.05,0a0.3,0.3 0 1,0 0.6,0a0.3,0.3 0 1,0 -0.6,0ZM0.3,0.95a0.3,0.3 0 1,0 0.6,0a0.3,0.3 0 1,0 -0.6,0Z", "filled": true, "fill": "#a53fc4", "size": 100, "opacity": 1},
          "encoding": {
            "x": {"datum": 852, "type": "quantitative", "scale": {"domain": [1130, -70]}, "axis": null},
            "y": {"datum": 268, "type": "quantitative", "scale": {"domain": [81.99, 276.47]}}
          }
        },
        {
          "data": {"values": [{"label": "4 box"}]},
          "mark": {"type": "rect", "fill": "#ffffff", "stroke": "#e0e3eb", "strokeWidth": 1, "cornerRadius": 3},
          "encoding": {
            "x": {"datum": 1118, "type": "quantitative", "scale": {"domain": [1130, -70]}, "axis": null},
            "x2": {"datum": 1085},
            "y": {"datum": 261.76, "type": "quantitative", "scale": {"domain": [81.99, 276.47]}},
            "y2": {"datum": 253.68}
          }
        },
        {
          "data": {"values": [{"icon": "chevron"}]},
          "mark": {"type": "point", "shape": "M-1,-0.5L0,0.5L1,-0.5", "filled": false, "stroke": "#131722", "strokeWidth": 1.2, "size": 36, "opacity": 1},
          "encoding": {
            "x": {"datum": 1107, "type": "quantitative", "scale": {"domain": [1130, -70]}, "axis": null},
            "y": {"datum": 257.7, "type": "quantitative", "scale": {"domain": [81.99, 276.47]}}
          }
        },
        {
          "data": {"values": [{"label": "4"}]},
          "mark": {"type": "text", "color": "#131722", "fontSize": 12, "align": "left", "baseline": "middle"},
          "encoding": {
            "x": {"datum": 1097, "type": "quantitative", "scale": {"domain": [1130, -70]}, "axis": null},
            "y": {"datum": 257.7, "type": "quantitative", "scale": {"domain": [81.99, 276.47]}},
            "text": {"field": "label"}
          }
        },
        {
          "data": {"values": [{"label": "USD box"}]},
          "mark": {"type": "rect", "fill": "#ffffff", "stroke": "#e6e8ee", "strokeWidth": 1, "cornerRadius": 4},
          "encoding": {
            "x": {"datum": -3, "type": "quantitative", "scale": {"domain": [1130, -70]}, "axis": null},
            "x2": {"datum": -63},
            "y": {"datum": 273.2, "type": "quantitative", "scale": {"domain": [81.99, 276.47]}},
            "y2": {"datum": 263.6}
          }
        },
        {
          "data": {"values": [{"label": "USD"}]},
          "mark": {"type": "text", "color": "#131722", "fontSize": 12, "align": "left", "baseline": "middle"},
          "encoding": {
            "x": {"datum": -8, "type": "quantitative", "scale": {"domain": [1130, -70]}, "axis": null},
            "y": {"datum": 268.4, "type": "quantitative", "scale": {"domain": [81.99, 276.47]}},
            "text": {"field": "label"}
          }
        },
        {
          "data": {"values": [{"icon": "chevron"}]},
          "mark": {"type": "point", "shape": "M-1,-0.5L0,0.5L1,-0.5", "filled": false, "stroke": "#131722", "strokeWidth": 1.4, "size": 30, "opacity": 1},
          "encoding": {
            "x": {"datum": -56, "type": "quantitative", "scale": {"domain": [1130, -70]}, "axis": null},
            "y": {"datum": 268.2, "type": "quantitative", "scale": {"domain": [81.99, 276.47]}}
          }
        },
        {
          "data": {"values": [{"icon": "bolt ring"}]},
          "mark": {"type": "point", "shape": "circle", "filled": true, "fill": "#ffffff", "stroke": "#a04cc0", "strokeWidth": 2, "size": 340, "opacity": 1},
          "encoding": {
            "x": {"datum": 325.3, "type": "quantitative", "scale": {"domain": [1130, -70]}, "axis": null},
            "y": {"datum": 97.5, "type": "quantitative", "scale": {"domain": [81.99, 276.47]}}
          }
        },
        {
          "data": {"values": [{"icon": "bolt"}]},
          "mark": {"type": "point", "shape": "M0.35,-1L-0.65,0.15H-0.05L-0.35,1L0.65,-0.15H0.05Z", "filled": true, "fill": "#9c27b0", "size": 100, "opacity": 1},
          "encoding": {
            "x": {"datum": 325.3, "type": "quantitative", "scale": {"domain": [1130, -70]}, "axis": null},
            "y": {"datum": 97.5, "type": "quantitative", "scale": {"domain": [81.99, 276.47]}}
          }
        },
        {
          "data": {"values": [{"icon": "tv logo"}]},
          "mark": {"type": "point", "shape": "M-1,-0.5H-0.07V0.5H-0.62V-0.12H-1ZM0.45,-0.5H1L0.5,0.5H-0.05ZM0.02,-0.5H0.3V-0.14H0.02Z", "filled": true, "fill": "#000000", "size": 1024, "opacity": 1},
          "encoding": {
            "x": {"datum": 1098, "type": "quantitative", "scale": {"domain": [1130, -70]}, "axis": null},
            "y": {"datum": 101.1, "type": "quantitative", "scale": {"domain": [81.99, 276.47]}}
          }
        },
        {
          "data": {"values": [{"icon": "settings"}]},
          "mark": {"type": "point", "shape": "M-1,0L-0.5,-0.9H0.5L1,0L0.5,0.9H-0.5Z", "filled": false, "stroke": "#2a2e39", "strokeWidth": 1.2, "size": 256, "opacity": 1},
          "encoding": {
            "x": {"datum": -33, "type": "quantitative", "scale": {"domain": [1130, -70]}, "axis": null},
            "y": {"datum": 87.5, "type": "quantitative", "scale": {"domain": [81.99, 276.47]}}
          }
        },
        {
          "data": {"values": [{"icon": "settings dot"}]},
          "mark": {"type": "point", "shape": "circle", "filled": false, "stroke": "#2a2e39", "strokeWidth": 1.2, "size": 16, "opacity": 1},
          "encoding": {
            "x": {"datum": -33, "type": "quantitative", "scale": {"domain": [1130, -70]}, "axis": null},
            "y": {"datum": 87.5, "type": "quantitative", "scale": {"domain": [81.99, 276.47]}}
          }
        }
      ]
    }
  ]
}
